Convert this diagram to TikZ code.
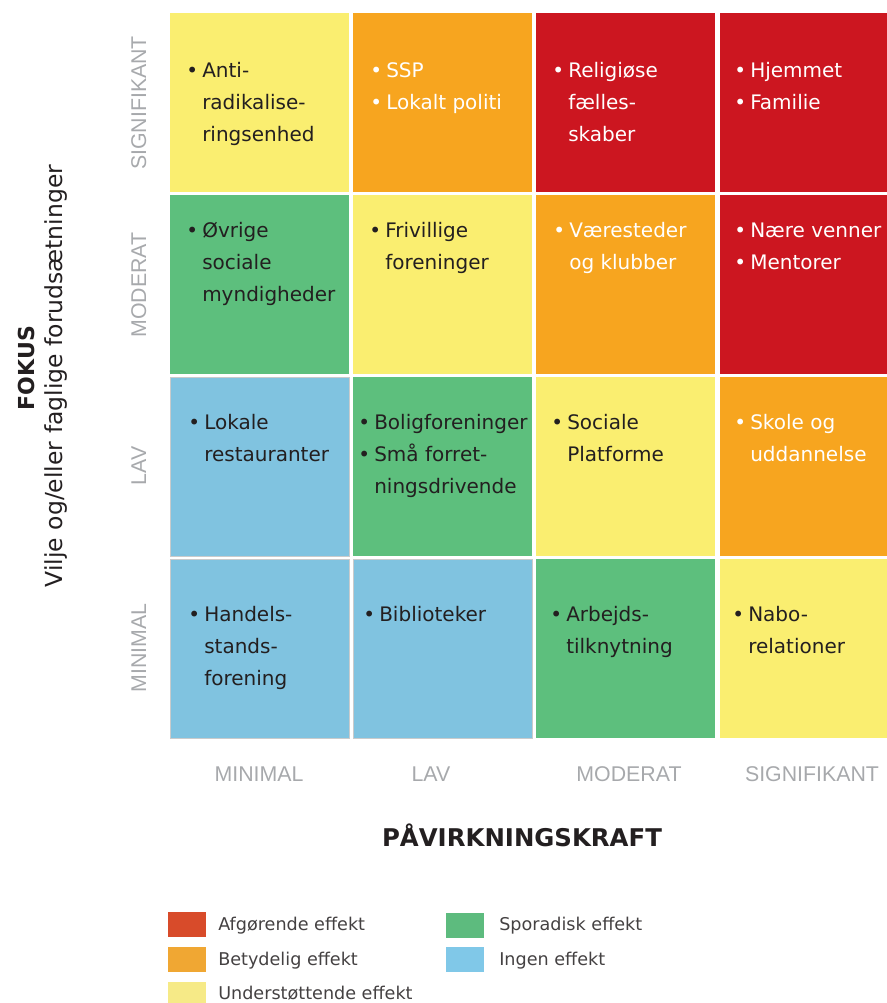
\documentclass[tikz,border=0pt]{standalone}
\usepackage{fontspec}
\setmainfont{DejaVu Sans}
\newfontfamily\axisfont{Liberation Sans}

\definecolor{cellyellow}{HTML}{FAEE70}
\definecolor{cellorange}{HTML}{F7A51F}
\definecolor{cellred}{HTML}{CC1620}
\definecolor{cellgreen}{HTML}{5DBF7D}
\definecolor{cellblue}{HTML}{80C3E0}
\definecolor{celledge}{HTML}{C9CBCC}
\definecolor{keyred}{HTML}{D84B2A}
\definecolor{keyorange}{HTML}{F0A733}
\definecolor{keyyellow}{HTML}{F6EA87}
\definecolor{keygreen}{HTML}{5DBB7E}
\definecolor{keyblue}{HTML}{80C8E8}
\definecolor{inkdark}{HTML}{231F20}
\definecolor{axisgray}{HTML}{A7A9AC}

\tikzset{
  celltext/.style={inner sep=0pt, anchor=base west, text=inkdark,
    font=\fontsize{15}{24}\selectfont},
  celllight/.style={celltext, text=white},
  axislabel/.style={inner sep=0pt, anchor=base, text=axisgray,
    font=\axisfont\fontsize{16}{16}\selectfont},
  keytext/.style={inner sep=0pt, anchor=base west, text=inkdark!85,
    font=\fontsize{13.2}{16}\selectfont},
  bluecell/.style={fill=cellblue, draw=celledge, line width=0.75},
}
\newcommand{\bitem}{\llap{\makebox[10.5pt][l]{\hspace{-1.5pt}\textbullet}}}
\newcommand{\celllines}[1]{\begin{tabular}[t]{@{}l@{}}#1\end{tabular}}

\begin{document}
\begin{tikzpicture}[x=0.75pt,y=0.75pt,yscale=-1,xscale=1]
\useasboundingbox (0,0) rectangle (887,1003);

%Shape: Rectangle row SIGNIFIKANT
\fill[cellyellow] (170,13) rectangle ++(179,179);
\fill[cellorange] (353,13) rectangle ++(179,179);
\fill[cellred] (536,13) rectangle ++(179,179);
\fill[cellred] (720,13) rectangle (887,192);
%Shape: Rectangle row MODERAT
\fill[cellgreen] (170,195) rectangle ++(179,179);
\fill[cellyellow] (353,195) rectangle ++(179,179);
\fill[cellorange] (536,195) rectangle ++(179,179);
\fill[cellred] (720,195) rectangle (887,374);
%Shape: Rectangle row LAV
\filldraw[bluecell] (170,377) rectangle ++(179,179);
\fill[cellgreen] (353,377) rectangle ++(179,179);
\fill[cellyellow] (536,377) rectangle ++(179,179);
\fill[cellorange] (720,377) rectangle (887,556);
%Shape: Rectangle row MINIMAL
\filldraw[bluecell] (170,559) rectangle ++(179,179);
\filldraw[bluecell] (353,559) rectangle ++(179,179);
\fill[cellgreen] (536,559) rectangle ++(179,179);
\fill[cellyellow] (720,559) rectangle (887,738);

%Text Node cells
\node[celltext] (antirad) at (202,77) {\celllines{\bitem Anti-\\radikalise-\\ringsenhed}};
\node[celllight] (ssp) at (386,77) {\celllines{\bitem SSP\\\bitem Lokalt politi}};
\node[celllight] (relig) at (568,77) {\celllines{\bitem Religiøse\\fælles-\\skaber}};
\node[celllight] (hjem) at (750,77) {\celllines{\bitem Hjemmet\\\bitem Familie}};

\node[celltext] (ovrige) at (202,237) {\celllines{\bitem Øvrige\\sociale\\myndigheder}};
\node[celltext] (frivil) at (385,237) {\celllines{\bitem Frivillige\\foreninger}};
\node[celllight] (vaere) at (569,237) {\celllines{\bitem Væresteder\\og klubber}};
\node[celllight] (venner) at (750,237) {\celllines{\bitem Nære venner\\\bitem Mentorer}};

\node[celltext] (restau) at (204,429) {\celllines{\bitem Lokale\\restauranter}};
\node[celltext] (bolig) at (374,429) {\celllines{\bitem Boligforeninger\\\bitem Små forret-\\ningsdrivende}};
\node[celltext] (sociale) at (567,429) {\celllines{\bitem Sociale\\Platforme}};
\node[celllight] (skole) at (750,429) {\celllines{\bitem Skole og\\uddannelse}};

\node[celltext] (handel) at (204,621) {\celllines{\bitem Handels-\\stands-\\forening}};
\node[celltext] (biblio) at (379,621) {\celllines{\bitem Biblioteker}};
\node[celltext] (arbejd) at (566,621) {\celllines{\bitem Arbejds-\\tilknytning}};
\node[celltext] (nabo) at (748,621) {\celllines{\bitem Nabo-\\relationer}};

%Text Node x axis
\node[axislabel] (xmin) at (259,781) {MINIMAL};
\node[axislabel] (xlav) at (431,781) {LAV};
\node[axislabel] (xmod) at (629,781) {MODERAT};
\node[axislabel] (xsig) at (812,781) {SIGNIFIKANT};
\node[inner sep=0pt, anchor=base, text=inkdark, font=\bfseries\fontsize{18.3}{20}\selectfont] (xtitle) at (522,846) {PÅVIRKNINGSKRAFT};

%Text Node y axis
\node[axislabel, rotate=90] (ysig) at (146,103) {SIGNIFIKANT};
\node[axislabel, rotate=90] (ymod) at (146,285) {MODERAT};
\node[axislabel, rotate=90] (ylav) at (146,466) {LAV};
\node[axislabel, rotate=90] (ymin) at (146,648) {MINIMAL};
\node[inner sep=0pt, anchor=base, rotate=90, text=inkdark, font=\bfseries\fontsize{16.5}{20}\selectfont] (ytitle) at (34,368) {FOKUS};
\node[inner sep=0pt, anchor=base, rotate=90, text=inkdark, font=\fontsize{17.6}{20}\selectfont] (ysub) at (62,376) {Vilje og/eller faglige forudsætninger};

%Shape: Rectangle legend
\fill[keyred] (168,912) rectangle (206,937);
\fill[keyorange] (168,947) rectangle (206,972);
\fill[keyyellow] (168,982) rectangle (206,1003);
\fill[keygreen] (446,913) rectangle (484,938);
\fill[keyblue] (446,947) rectangle (484,972);
%Text Node legend
\node[keytext] (kafg) at (218,930) {Afgørende effekt};
\node[keytext] (kbet) at (218,965) {Betydelig effekt};
\node[keytext] (kund) at (218,999) {Understøttende effekt};
\node[keytext] (kspo) at (499,930) {Sporadisk effekt};
\node[keytext] (king) at (499,965) {Ingen effekt};

\end{tikzpicture}
\end{document}
